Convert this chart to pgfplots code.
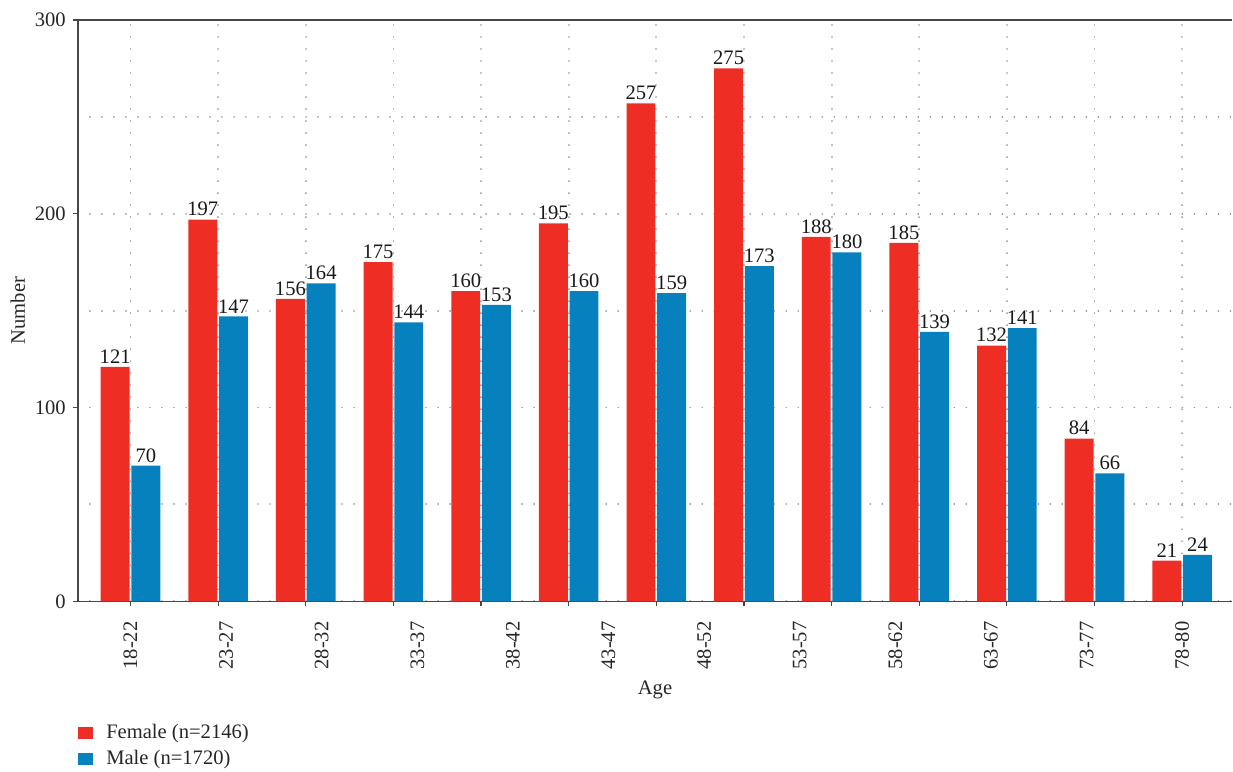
\documentclass[border=0pt]{standalone}
\usepackage{fontspec}
\setmainfont{Liberation Serif}
\usepackage{pgfplots}
\pgfplotsset{compat=1.18}
\definecolor{fem}{RGB}{238,46,37}
\definecolor{mal}{RGB}{6,129,190}
\definecolor{axc}{RGB}{70,70,70}
\begin{document}
\fontsize{10.3}{12}\selectfont
\begin{tikzpicture}
\begin{axis}[
  scale only axis, width=577.8pt, height=291pt,
  xmin=-0.6, xmax=12.57, ymin=0, ymax=300,
  /pgf/number format/assume math mode=true,
  axis x line=box, axis y line=left,
  axis line style={-, draw=axc, line width=0.75pt},
  every tick/.style={draw=axc, line width=0.6pt},
  tick align=outside, major tick length=2.5pt, minor tick length=0pt,
  xtick pos=left,
  ytick={0,100,200,300}, minor ytick={50,150,250},
  ymajorgrids, yminorgrids, xmajorgrids,
  grid style={gray!85, line width=0.9pt, dash pattern=on 0.01pt off 6pt, line cap=round},
  xtick={0,...,12}, xticklabels={},
  extra x ticks={0,1.0909,2.1818,3.2727,4.3636,5.4545,6.5455,7.6364,8.7273,9.8182,10.9091,12},
  extra x tick labels={18-22,23-27,28-32,33-37,38-42,43-47,48-52,53-57,58-62,63-67,73-77,78-80},
  extra x tick style={major tick length=0pt, grid=none, tick label style={rotate=90, anchor=east, xshift=-6.5pt}},
  tick label style={font=\fontsize{10.3}{12}\selectfont, text=black!85},
  ylabel={Number}, xlabel={Age},
  label style={font=\fontsize{10.3}{12}\selectfont, text=black!85},
  y label style={at={(axis description cs:-0.052,0.5)}, anchor=center},
  x label style={at={(axis description cs:0.5,-0.153)}, anchor=center},
  legend style={at={(rel axis cs:0,-0.204)}, anchor=north west, draw=none, fill=none,
    inner xsep=0pt, inner ysep=0pt, row sep=0.5pt,
    font=\fontsize{10.3}{12}\selectfont, text=black!85,
    nodes={inner xsep=3.5pt}},
  legend cell align=left,
  nodes near coords style={font=\fontsize{10.3}{12}\selectfont, text=black!90, inner sep=1.5pt},
]
\coordinate (tl) at (rel axis cs:0,1);
\addplot[ybar, bar width=0.33, bar shift=-0.175, fill=fem, draw=none, nodes near coords,
  every node near coord/.append style={xshift=-7.68pt},
  legend image code/.code={\fill[fem] (-3.5pt,-3pt) rectangle (4pt,3pt); \path (7pt,0pt);}]
  coordinates {(0,121) (1,197) (2,156) (3,175) (4,160) (5,195) (6,257) (7,275) (8,188) (9,185) (10,132) (11,84) (12,21)};
\addlegendentry{Female (n=2146)}
\addplot[ybar, bar width=0.33, bar shift=0.175, fill=mal, draw=none, nodes near coords,
  every node near coord/.append style={xshift=7.68pt},
  legend image code/.code={\fill[mal] (-3.5pt,-3pt) rectangle (4pt,3pt); \path (7pt,0pt);}]
  coordinates {(0,70) (1,147) (2,164) (3,144) (4,153) (5,160) (6,159) (7,173) (8,180) (9,139) (10,141) (11,66) (12,24)};
\addlegendentry{Male (n=1720)}
\end{axis}
\path (tl) ++(-39pt,10pt);
\end{tikzpicture}
\end{document}
